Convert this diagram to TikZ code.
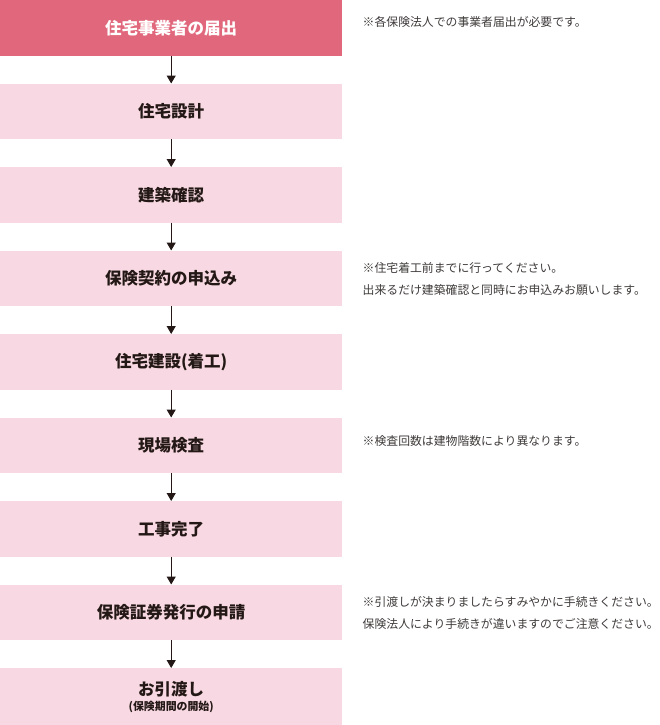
\documentclass[tikz,border=0pt]{standalone}
\usepackage{fontspec}
\newfontfamily\jp{Noto Sans CJK JP}
\usetikzlibrary{arrows.meta}
\definecolor{headpink}{HTML}{E1687C}
\definecolor{steppink}{HTML}{F8D8E2}
\definecolor{inkdark}{HTML}{231815}
\definecolor{notegray}{HTML}{3E3A39}
\tikzset{
  stepbox/.style={fill=steppink, text=inkdark, minimum width=342pt, minimum height=55.5pt,
    inner sep=0pt, anchor=north west, align=center,
    font=\jp\bfseries\fontsize{16.5}{21}\selectfont},
  headbox/.style={stepbox, fill=headpink, text=white},
  flow/.style={draw=inkdark, line width=1.1pt, -{Triangle[width=9pt,length=8pt]}},
  note/.style={anchor=west, inner sep=0pt, align=left, text=notegray,
    font=\jp\fontsize{11.85}{22}\selectfont}
}

\begin{document}
\begin{tikzpicture}[x=1pt,y=1pt]
\useasboundingbox (0,0) rectangle (660,-725);
\node[headbox] (s1) at (0,0) {住宅事業者の届出};
\foreach \txt [count=\n from 2] in {住宅設計, 建築確認, 保険契約の申込み, 住宅建設(着工),
    現場検査, 工事完了, 保険証券発行の申請}
  \node[stepbox] (s\n) at (0,{-(\n-1)*83.5}) {\txt};
\node[stepbox, minimum height=57pt] (s9) at (0,-668)
  {\raisebox{-2pt}{お引渡し}\\[-4pt]{\fontsize{10.9}{12}\selectfont (保険期間の開始)}};
\foreach \a/\b in {1/2,2/3,3/4,4/5,5/6,6/7,7/8,8/9}
  \draw[flow] (s\a) -- (s\b);
% notes beside the steps
\node[note] (n1) at (362.5,-22) {※各保険法人での事業者届出が必要です。};
\node[note] (n4) at (362.5,-279) {※住宅着工前までに行ってください。\\出来るだけ建築確認と同時にお申込みお願いします。};
\node[note] (n6) at (362.5,-441) {※検査回数は建物階数により異なります。};
\node[note] (n8) at (362.5,-613) {※引渡しが決まりましたらすみやかに手続きください。\\保険法人により手続きが違いますのでご注意ください。};
\end{tikzpicture}
\end{document}
